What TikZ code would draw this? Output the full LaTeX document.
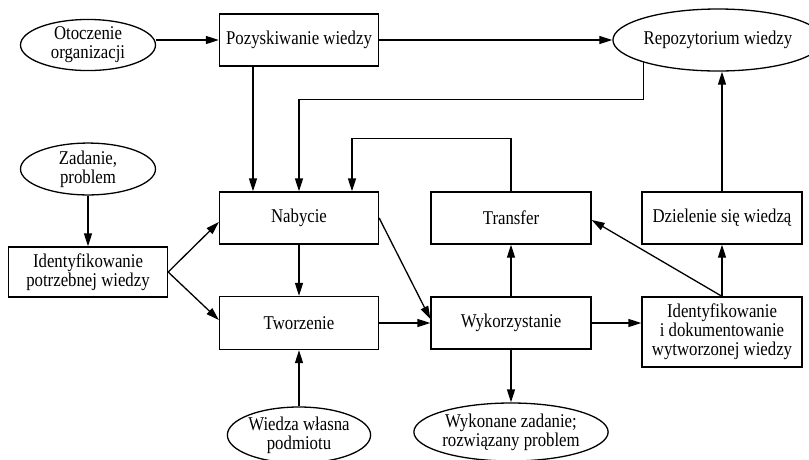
\documentclass[tikz,border=0pt]{standalone}
\usepackage{fontspec}
\setmainfont{Liberation Serif}
\newfontfamily\diagfont[FakeStretch=0.86]{Liberation Serif}
\usetikzlibrary{shapes.geometric,arrows.meta}

\begin{document}
\begin{tikzpicture}[x=1pt, y=1pt,
  box/.style={draw, line width=1.3pt, minimum width=159pt, minimum height=52pt, inner sep=0pt, align=center, font=\diagfont\fontsize{19.5}{19}\selectfont},
  oval/.style={draw, ellipse, line width=1.3pt, inner sep=0pt, align=center, font=\diagfont\fontsize{19.5}{19}\selectfont}]

\clip (0,0) rectangle (809,-459);

\node [oval, minimum width=135pt, minimum height=50pt] (otocz) at (88,-45) {Otoczenie\\organizacji};
\node [box] (poz) at (299,-40) {Pozyskiwanie wiedzy};
\node [oval, minimum width=180pt, minimum height=62pt] (repo) at (718,-40) {Repozytorium wiedzy};
\node [oval, minimum width=135pt, minimum height=50pt] (zad) at (88,-169) {Zadanie,\\problem};
\node [box, minimum height=50pt] (ident) at (88,-272) {Identyfikowanie\\potrzebnej wiedzy};
\node [box] (nab) at (299,-218) {Nabycie};
\node [box, minimum height=53pt] (twor) at (299,-323) {Tworzenie};
\node [oval, minimum width=136pt, minimum height=56pt] (wlasna) at (299,-435) {Wiedza własna\\podmiotu};
\node [box, minimum width=160pt] (transfer) at (511,-218) {Transfer};
\node [box, minimum width=160pt] (wyk) at (511,-323) {Wykorzystanie};
\node [oval, minimum width=187pt, minimum height=58pt] (wykon) at (511,-432) {Wykonane zadanie;\\rozwiązany problem};
\node [box, minimum width=160pt] (dziel) at (722,-218) {Dzielenie się wiedzą};
\node [box, minimum width=160pt, minimum height=70pt] (iddok) at (722,-332) {Identyfikowanie\\i dokumentowanie\\wytworzonej wiedzy};

\begin{scope}[line width=1.3pt, -{Triangle[length=13pt, width=8pt]}]
\draw (otocz.east |- poz.west) -- (poz.west); %otocz-poz
\draw (poz.east) -- (repo.west); %poz-repo
\draw ([xshift=-46pt]poz.south) -- ([xshift=-46pt]nab.north); %poz-nab
\draw (repo.south west) -- ++(0,-37) -| (nab.north); %repo-nab
\draw (transfer.north) -- ++(0,53) -| ([xshift=53pt]nab.north); %transfer-nab
\draw (zad.south) -- (ident.north); %zad-ident
\draw (ident.east) -- ([yshift=-4pt]nab.west); %ident-nab
\draw (ident.east) -- ([yshift=3pt]twor.west); %ident-twor
\draw (nab.south) -- (twor.north); %nab-twor
\draw (wlasna.north) -- (twor.south); %wlasna-twor
\draw (twor.east) -- (wyk.west); %twor-wyk
\draw (nab.east) -- ([yshift=4pt]wyk.west); %nab-wyk
\draw (wyk.north) -- (transfer.south); %wyk-transfer
\draw (wyk.south) -- (wykon.north); %wyk-wykon
\draw (wyk.east) -- (wyk.east -| iddok.west); %wyk-iddok
\draw (iddok.north) -- (dziel.south); %iddok-dziel
\draw (iddok.north) -- ([yshift=-2pt]transfer.east); %iddok-transfer
\draw (dziel.north) -- (dziel.north |- repo.south); %dziel-repo
\end{scope}

\end{tikzpicture}
\end{document}
